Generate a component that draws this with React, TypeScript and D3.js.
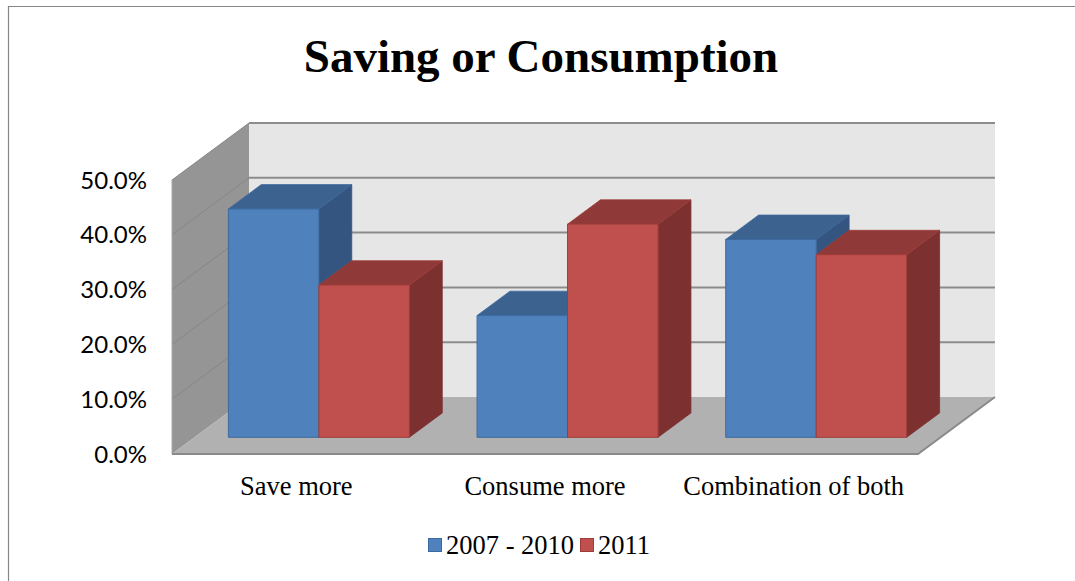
import React from "react";
import * as d3 from "d3";

const categories = ["Save more", "Consume more", "Combination of both"];
const seriesNames = ["2007 - 2010", "2011"];
const series2007_2010 = [0.4167, 0.2222, 0.3611];
const series2011 = [0.2778, 0.3889, 0.3333];
const yTicks = [0, 0.1, 0.2, 0.3, 0.4, 0.5];
const title = "Saving or Consumption";

const seriesValues = [series2007_2010, series2011];
const colors = [
  { front: "#4f81bd", top: "#3c6290", side: "#33557f", edge: "#3d6a9e" },
  { front: "#c0504d", top: "#8f3a38", side: "#7c3030", edge: "#9e3c39" },
];

export default function App() {
  const x0 = 172;
  const y0 = 454;
  const plotW = 746;
  const plotH = 274;
  const DX = 77;
  const DY = -57;
  const f0 = 0.293;
  const f1 = 0.72;

  const y = d3.scaleLinear().domain([0, 0.5]).range([0, plotH]);
  const x = d3.scaleBand<string>().domain(categories).range([0, plotW]).paddingInner(0).paddingOuter(0);
  const barW = 90.5;

  const proj = (xx: number, v: number, d: number): [number, number] => [x0 + xx + d * DX, y0 - y(v) + d * DY];
  const pts = (arr: [number, number][]) => arr.map((p) => p.join(",")).join(" ");

  const walls = [] as React.ReactNode[];
  walls.push(
    <polygon key="back" points={pts([proj(0, 0.5, 1), proj(plotW, 0.5, 1), proj(plotW, 0, 1), proj(0, 0, 1)])} fill="#e6e6e6" />
  );
  walls.push(
    <polygon key="left" points={pts([proj(0, 0.5, 0), proj(0, 0.5, 1), proj(0, 0, 1), proj(0, 0, 0)])} fill="#959595" />
  );
  walls.push(
    <polygon key="floor" points={pts([proj(0, 0, 0), proj(plotW, 0, 0), proj(plotW, 0, 1), proj(0, 0, 1)])} fill="#b1b1b1" />
  );
  const grid = yTicks.map((t) => {
    const a = proj(0, t, 0);
    const b = proj(0, t, 1);
    const c = proj(plotW, t, 1);
    return (
      <g key={"g" + t}>
        {t > 0 && <line x1={a[0]} y1={a[1]} x2={b[0]} y2={b[1]} stroke="#868686" strokeWidth={1} />}
        {t > 0 && <line x1={b[0]} y1={b[1]} x2={c[0]} y2={c[1]} stroke="#8c8c8c" strokeWidth={2} />}
      </g>
    );
  });
  const fe0 = proj(0, 0, 0);
  const fe1 = proj(plotW, 0, 0);
  const fe2 = proj(plotW, 0, 1);
  const le0 = proj(0, 0.5, 0);

  const bars: React.ReactNode[] = [];
  categories.forEach((cat, ci) => {
    const cx = (x(cat) as number) + x.bandwidth() / 2;
    seriesValues.forEach((vals, si) => {
      const v = vals[ci];
      const l = cx - barW + si * barW;
      const r = l + barW;
      const c = colors[si];
      const front = [proj(l, v, f0), proj(r, v, f0), proj(r, 0, f0), proj(l, 0, f0)];
      const top = [proj(l, v, f0), proj(l, v, f1), proj(r, v, f1), proj(r, v, f0)];
      const side = [proj(r, v, f0), proj(r, v, f1), proj(r, 0, f1), proj(r, 0, f0)];
      bars.push(
        <g key={cat + si}>
          <polygon points={pts(side)} fill={c.side} stroke={c.side} strokeWidth={0.8} strokeLinejoin="round" />
          <polygon points={pts(top)} fill={c.top} stroke={c.edge} strokeWidth={0.8} strokeLinejoin="round" />
          <polygon points={pts(front)} fill={c.front} stroke={c.edge} strokeWidth={1} strokeLinejoin="round" />
        </g>
      );
    });
  });

  const tickLabels = yTicks.map((t) => {
    const p = proj(0, t, 0);
    return (
      <text key={"t" + t} x={147} y={p[1]} dy="0.36em" textAnchor="end" fontFamily="Lato, 'Open Sans', sans-serif" fontSize={24} fill="#000">
        {d3.format(".1%")(t)}
      </text>
    );
  });

  const catLabels = categories.map((cat) => {
    const cx = x0 + (x(cat) as number) + x.bandwidth() / 2;
    return (
      <text key={"c" + cat} x={cx} y={495} textAnchor="middle" fontFamily="'Liberation Serif', 'Times New Roman', serif" fontSize={26.5} fill="#000">
        {cat}
      </text>
    );
  });

  const legendX = [428, 580];
  const legend = seriesNames.map((n, i) => (
    <g key={"l" + n}>
      <rect x={legendX[i] + 0.5} y={538.5} width={13} height={13} fill={colors[i].front} stroke={colors[i].edge} strokeWidth={1} />
      <text x={legendX[i] + 18} y={554} fontFamily="'Liberation Serif', 'Times New Roman', serif" fontSize={26.5} fill="#000">
        {n}
      </text>
    </g>
  ));

  return (
    <svg width={1075} height={581} style={{ position: "absolute", left: 0, top: 0, background: "#fff" }}>
      <rect x={0} y={0} width={1075} height={581} fill="#fff" />
      <line x1={8.5} y1={6} x2={8.5} y2={581} stroke="#868686" strokeWidth={1.2} />
      <line x1={8} y1={6.5} x2={1075} y2={6.5} stroke="#868686" strokeWidth={1.2} />
      <text x={541} y={72} textAnchor="middle" fontFamily="'Liberation Serif', 'Times New Roman', serif" fontWeight="bold" fontSize={47} fill="#000">
        {title}
      </text>
      {walls}
      {grid}
      <line x1={le0[0]} y1={le0[1]} x2={fe0[0]} y2={fe0[1]} stroke="#a8a8a8" strokeWidth={1} />
      <polyline points={pts([fe0, fe1, fe2])} fill="none" stroke="#8a8a8a" strokeWidth={2} />
      {bars}
      {tickLabels}
      {catLabels}
      {legend}
    </svg>
  );
}
